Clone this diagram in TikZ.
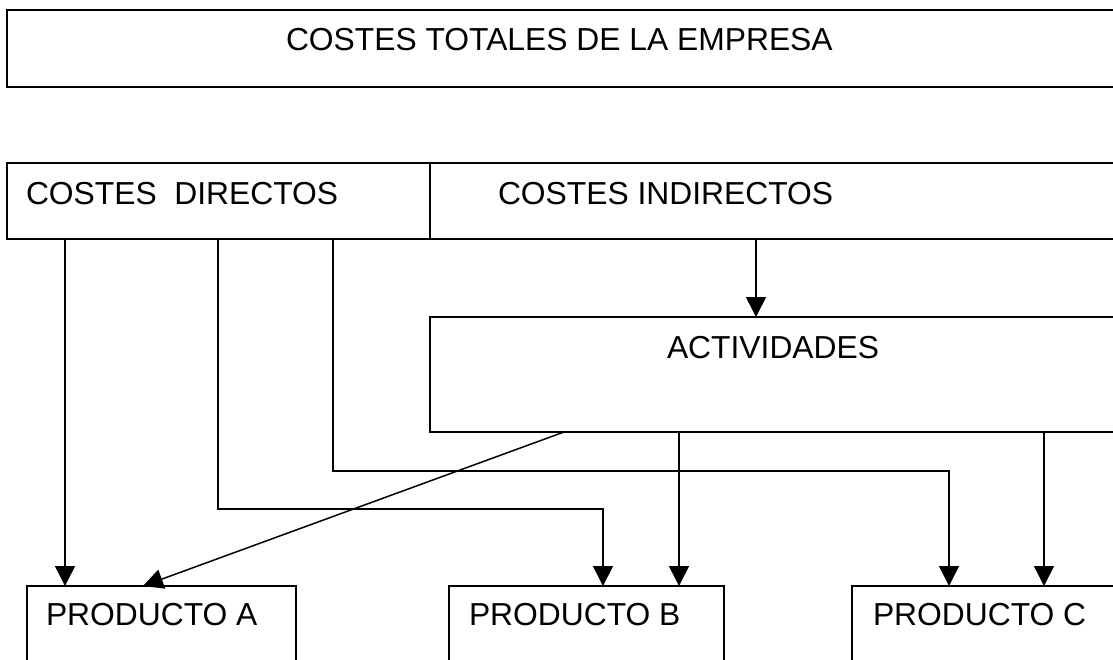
\documentclass[tikz,border=0pt]{standalone}
\usepackage{fontspec}
\setmainfont{Liberation Sans}
\usetikzlibrary{arrows.meta}
\begin{document}
\begin{tikzpicture}[x=1pt,y=-1pt,
  boxnode/.style={draw=black, line width=1.6pt, rectangle, inner sep=0pt, outer sep=0pt, anchor=north west},
  txt/.style={inner sep=0pt, outer sep=0pt, anchor=base west, font=\fontsize{31.8}{38}\selectfont},
  conn/.style={draw=black, line width=1.5pt},
  arr/.style={conn, -{Triangle[length=20pt,width=20pt]}}]
\fill[white] (0,0) rectangle (1113,659);
\useasboundingbox (0,0) rectangle (1113,659);
% boxes
\node[boxnode, minimum width=1120pt, minimum height=77pt] (top) at (7,10) {};
\node[boxnode, minimum width=1120pt, minimum height=76pt] (costs) at (7,163) {};
\node[boxnode, minimum width=700pt, minimum height=115pt] (act) at (430,317) {};
\node[boxnode, minimum width=269pt, minimum height=100pt] (prodA) at (27,586) {};
\node[boxnode, minimum width=275pt, minimum height=100pt] (prodB) at (449,586) {};
\node[boxnode, minimum width=280pt, minimum height=100pt] (prodC) at (852,586) {};
\draw[line width=1.6pt] (act.north west |- costs.north) -- (act.north west |- costs.south);
% texts
\node[txt] (ttop) at (286,50) {COSTES TOTALES DE LA EMPRESA};
\node[txt] (tdir) at (26,204) {COSTES~~DIRECTOS};
\node[txt] (tind) at (498,204) {COSTES INDIRECTOS};
\node[txt] (tact) at (667,358) {ACTIVIDADES};
\node[txt] (tA) at (46,625) {PRODUCTO A};
\node[txt] (tB) at (469,625) {PRODUCTO B};
\node[txt] (tC) at (873,625) {PRODUCTO C};
% connectors
\draw[arr] ([xshift=58]costs.south west) -- ([xshift=58]costs.south west |- prodA.north);
\draw[arr] ([xshift=211]costs.south west) |- ([yshift=77]prodB.north west) -| ([xshift=154]prodB.north west);
\draw[arr] ([xshift=326]costs.south west) |- ([yshift=115]prodC.north west) -| ([xshift=97]prodC.north west);
\draw[arr] ([xshift=326]act.north west |- costs.south) -- ([xshift=326]act.north west);
\draw[arr] ([xshift=134]act.south west) -- ([xshift=116]prodA.north west);
\draw[arr] ([xshift=249]act.south west) -- ([xshift=249]act.south west |- prodB.north);
\draw[arr] ([xshift=614]act.south west) -- ([xshift=614]act.south west |- prodC.north);
\end{tikzpicture}
\end{document}
